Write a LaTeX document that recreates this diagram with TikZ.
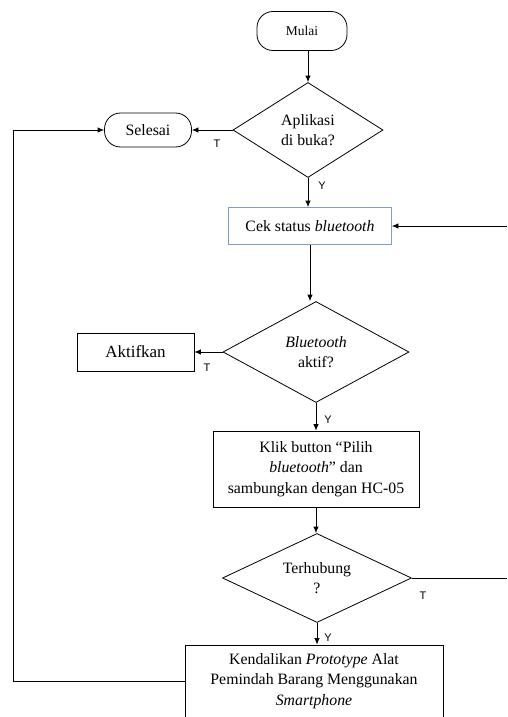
\documentclass[tikz,border=0pt]{standalone}
\usepackage{fontspec}
\setmainfont{Liberation Serif}
\setsansfont{Liberation Sans}
\usetikzlibrary{shapes.geometric,arrows.meta,calc}

\begin{document}
\begin{tikzpicture}[x=1pt,y=-1pt,
  line width=0.8pt,
  every node/.style={font=\fontsize{15.8}{20.5}\selectfont, align=center, inner sep=0pt},
  term/.style={draw, rounded corners=16pt, minimum width=#1},
  procbox/.style={draw, rectangle},
  decide/.style={draw, diamond, aspect=1.6},
  lbl/.style={font=\sffamily\fontsize{11}{12}\selectfont},
  arr/.style={-{Latex[length=6.5pt,width=5.5pt]}}]

%─────────────
% Canvas
%─────────────
\useasboundingbox (0,0) rectangle (507,717);
\definecolor{boxblue}{rgb}{0.50,0.62,0.78}  % border of the status box
\coordinate (lft) at (13,0);   % left return line
\coordinate (rgt) at (507,0);  % right edge (line runs off the page)

%─────────────
% Nodes
%─────────────
\node[term=90pt, minimum height=39pt, font=\fontsize{13.5}{16}\selectfont] (mulai) at (302,31) {Mulai};
\node[decide, minimum width=150pt, minimum height=95pt] (apk) at (308,130) {Aplikasi\\di buka?};
\node[term=87pt, minimum height=34pt] (selesai) at (148,130) {Selesai};
\node[procbox, draw=boxblue, minimum width=163pt, minimum height=37pt] (cek) at (310,226) {Cek status \textit{bluetooth}};
\node[decide, minimum width=186pt, minimum height=101pt] (btaktif) at (316,352) {\textit{Bluetooth}\\aktif?};
\node[procbox, minimum width=117pt, minimum height=38pt, font=\fontsize{17}{20}\selectfont] (aktifkan) at (135.5,352) {Aktifkan};
\node[procbox, minimum width=206pt, minimum height=76pt] (klik) at (316,469) {Klik button “Pilih\\\textit{bluetooth}” dan\\sambungkan dengan HC-05};
\node[decide, minimum width=189pt, minimum height=89pt] (terhub) at (317,578) {Terhubung\\?};
\node[procbox, minimum width=258pt, minimum height=72pt] (kendali) at (314,681) {Kendalikan \textit{Prototype} Alat\\Pemindah Barang Menggunakan\\\textit{Smartphone}};

%─────────────
% Connectors
%─────────────
\draw[arr] (apk.north |- mulai.south) -- (apk.north);
\draw[arr] (apk.west) -- (selesai.east);
\draw[arr] (apk.south) -- (apk.south |- cek.north);
\draw[arr] (cek.south) -- (cek.south |- btaktif.north);
\draw[arr] (btaktif.west) -- (aktifkan.east);
\draw[arr] (btaktif.south) -- (klik.north);
\draw[arr] (klik.south) -- (klik.south |- terhub.north);
\draw[arr] (terhub.south) -- (terhub.south |- kendali.north);
\draw (terhub.east) -- (terhub.east -| rgt);
\draw[arr] (cek.east -| rgt) -- (cek.east);
\draw[arr] (kendali.west) -- (kendali.west -| lft) -- (selesai.west -| lft) -- (selesai.west);

%─────────────
% Labels
%─────────────
\node[lbl] (t1) at (217,144) {T};
\node[lbl] (y1) at (322,186) {Y};
\node[lbl] (t2) at (207,368) {T};
\node[lbl] (y2) at (328,420) {Y};
\node[lbl] (t3) at (423,596) {T};
\node[lbl] (y3) at (328,638) {Y};

\end{tikzpicture}
\end{document}
